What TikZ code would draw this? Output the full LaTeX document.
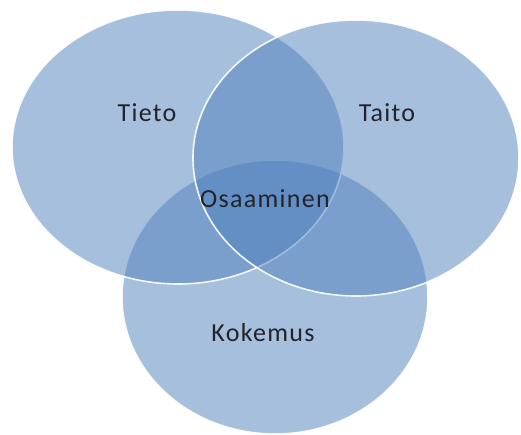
\documentclass[tikz,border=0pt]{standalone}
\usepackage{fontspec}
\setmainfont{Carlito}[LetterSpace=5]
\definecolor{vennblue}{RGB}{79,129,189}
\definecolor{vtext}{RGB}{35,35,45}
\tikzset{
  vennset/.style={fill=vennblue, fill opacity=0.5, draw=white, draw opacity=0.9, line width=1.6pt},
  vennlabel/.style={text=vtext, font=\fontsize{26}{30}\selectfont, inner sep=0pt}
}
\begin{document}
\begin{tikzpicture}[x=1pt,y=1pt]
\useasboundingbox (0,0) rectangle (521,434);
\fill[white] (0,0) rectangle (521,434);
\path[vennset] (275,137) ellipse [x radius=153, y radius=137];
\path[vennset] (178,287) ellipse [x radius=166, y radius=137];
\path[vennset] (356,276) ellipse [x radius=163, y radius=138];
\node[vennlabel] (tieto) at (147,321) {Tieto};
\node[vennlabel] (taito) at (387,321) {Taito};
\node[vennlabel] (osaaminen) at (265,235) {Osaaminen};
\node[vennlabel] (kokemus) at (263,101) {Kokemus};
\end{tikzpicture}
\end{document}
